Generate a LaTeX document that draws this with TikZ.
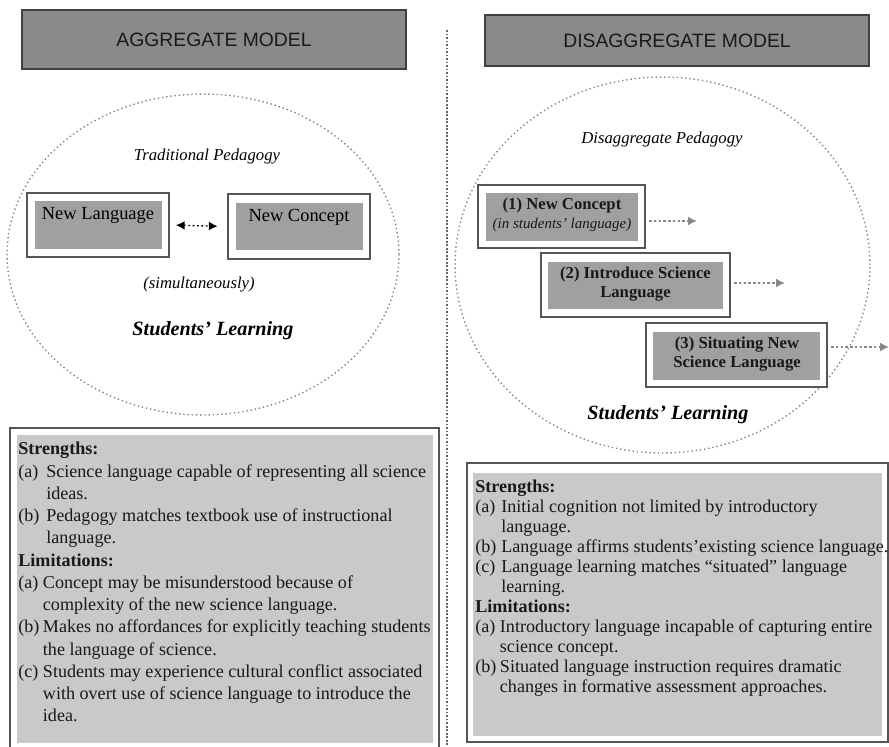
\documentclass[tikz,border=0pt]{standalone}
\usepackage{fontspec}
\setmainfont{Liberation Serif}
\setsansfont{Liberation Sans}
\usetikzlibrary{arrows.meta}

\definecolor{headgray}{RGB}{138,138,138}
\definecolor{boxgray}{RGB}{160,160,160}
\definecolor{notegray}{RGB}{201,201,201}
\definecolor{linegray}{RGB}{85,85,85}
\definecolor{dotgray}{RGB}{135,135,135}

% item labels with a hanging indent
\newcommand\itemlbl[2][15.9pt]{\makebox[#1][l]{#2}}
\newcommand\itemcont[1][15.9pt]{\hspace*{#1}}

\begin{document}
\begin{tikzpicture}[x=0.02cm, y=-0.02cm,
  header/.style={draw=black!75, line width=0.8pt, fill=headgray, inner sep=0,
    font=\sffamily\fontsize{11}{13}\selectfont, text=black!90},
  outerbox/.style={draw=linegray, line width=0.8pt, fill=white, inner sep=0},
  innerbox/.style={fill=boxgray, inner sep=0},
  steptext/.style={font=\bfseries\fontsize{9.5}{10.8}\selectfont, align=center, text=black!90},
  notes/.style={align=left, inner sep=0, anchor=north west, text=black!90},
  dotline/.style={dotgray, line width=0.8pt, dash pattern=on 0.8pt off 1.6pt},
  steparrow/.style={dotgray, line width=1pt, dash pattern=on 1.4pt off 1.3pt,
    -{Latex[length=5pt,width=5pt]}, shorten <=2pt}]

  \useasboundingbox (0,0) rectangle (889,747);

  % Dotted divider between the two models
  \coordinate (DivTop) at (447,30);
  \coordinate (DivBot) at (447,747);
  \draw[black!60, line width=0.8pt, dash pattern=on 1pt off 1pt] (DivTop) -- (DivBot);

  % Headers
  \node[header, minimum width=7.68cm, minimum height=1.18cm] (aggHead) at (214,39.5) {AGGREGATE MODEL};
  \node[header, minimum width=7.68cm, minimum height=1.02cm] (disHead) at (677,40.5) {DISAGGREGATE MODEL};

  % Students' learning ellipses
  \draw[dotline] (203,254.5) ellipse [x radius=3.92cm, y radius=3.21cm];
  \draw[dotline] (662.5,265) ellipse [x radius=4.15cm, y radius=3.76cm];

  % Aggregate model: language and concept together
  \node[font=\itshape\fontsize{9.5}{11}\selectfont] (tradPed) at (207,157) {Traditional Pedagogy};

  \node[outerbox, minimum width=2.84cm, minimum height=1.28cm] (langOut) at (98,225) {};
  \node[innerbox, minimum width=2.54cm, minimum height=0.96cm] (langIn) at (98.5,225) {};
  \node[font=\fontsize{10.5}{12}\selectfont] (langTxt) at (98,215) {New Language};

  \node[outerbox, minimum width=2.84cm, minimum height=1.30cm] (concOut) at (299,226.5) {};
  \node[innerbox, minimum width=2.54cm, minimum height=0.94cm] (concIn) at (299.5,226.5) {};
  \node[font=\fontsize{10.5}{12}\selectfont] (concTxt) at (299,217) {New Concept};

  \draw[{Latex[length=5pt,width=5pt]}-{Latex[length=5pt,width=5pt]}, line width=0.8pt,
    dash pattern=on 1pt off 1.5pt, shorten <=3.5pt, shorten >=5.5pt] (langOut.east) -- (concOut.west);

  \node[font=\itshape\fontsize{9.5}{11}\selectfont] (simul) at (199,285) {(simultaneously)};
  \node[font=\bfseries\itshape\fontsize{11.5}{13}\selectfont] (learnA) at (213,331) {Students’ Learning};

  % Disaggregate model: three steps
  \node[font=\itshape\fontsize{9.5}{11}\selectfont] (disPed) at (662,140) {Disaggregate Pedagogy};

  \node[outerbox, minimum width=3.34cm, minimum height=1.26cm] (step1Out) at (561.5,216.5) {};
  \node[innerbox, minimum width=3.04cm, minimum height=0.96cm] (step1In) at (562,217) {};
  \node[steptext] (step1Txt) at (562,215) {(1) New Concept\\{\normalfont\itshape\fontsize{8.5}{10}\selectfont (in students’ language)}};

  \node[outerbox, minimum width=3.78cm, minimum height=1.28cm] (step2Out) at (635.5,285) {};
  \node[innerbox, minimum width=3.5cm, minimum height=0.94cm] (step2In) at (635.5,285.5) {};
  \node[steptext] (step2Txt) at (635.5,284) {(2) Introduce Science\\Language};

  \node[outerbox, minimum width=3.62cm, minimum height=1.28cm] (step3Out) at (736.5,355) {};
  \node[innerbox, minimum width=3.34cm, minimum height=0.96cm] (step3In) at (736.5,356) {};
  \node[steptext] (step3Txt) at (737,354) {(3) Situating New\\Science Language};

  \coordinate (s1End) at (697,221);
  \coordinate (s2End) at (785,283);
  \coordinate (s3End) at (889,347);
  \draw[steparrow] (step1Out.east |- s1End) -- (s1End);
  \draw[steparrow] (step2Out.east |- s2End) -- (s2End);
  \draw[steparrow] (step3Out.east |- s3End) -- (s3End);

  \node[font=\bfseries\itshape\fontsize{11.5}{13}\selectfont] (learnB) at (668,415) {Students’ Learning};

  % Strengths and limitations, aggregate
  \node[outerbox, minimum width=8.58cm, minimum height=6.64cm] (aggNotesOut) at (224.5,594) {};
  \node[fill=notegray, inner sep=0, minimum width=8.32cm, minimum height=6.16cm] (aggNotesIn) at (225,589) {};
  \node[notes, font=\fontsize{10.3}{12.66}\selectfont] (aggNotes) at (18,442) {%
    \textbf{Strengths:}\\
    \itemlbl{(a)}Science language capable of representing all science\\
    \itemcont ideas.\\
    \itemlbl{(b)}Pedagogy matches textbook use of instructional\\
    \itemcont language.\\
    \textbf{Limitations:}\\
    \itemlbl[14pt]{(a)}Concept may be misunderstood because of\\
    \itemcont[14pt]complexity of the new science language.\\
    \itemlbl[14pt]{(b)}Makes no affordances for explicitly teaching students\\
    \itemcont[14pt]the language of science.\\
    \itemlbl[14pt]{(c)}Students may experience cultural conflict associated\\
    \itemcont[14pt]with overt use of science language to introduce the\\
    \itemcont[14pt]idea.};

  % Strengths and limitations, disaggregate
  \node[outerbox, minimum width=8.42cm, minimum height=5.58cm] (disNotesOut) at (677.5,602.5) {};
  \node[fill=notegray, inner sep=0, minimum width=8.18cm, minimum height=5.26cm] (disNotesIn) at (677.5,604.5) {};
  \node[notes, font=\fontsize{10.3}{11.34}\selectfont] (disNotes) at (475,480) {%
    \textbf{Strengths:}\\
    \itemlbl[14.8pt]{(a)}Initial cognition not limited by introductory\\
    \itemcont[14.8pt]language.\\
    \itemlbl[14.8pt]{(b)}Language affirms students’existing science language.\\
    \itemlbl[14.8pt]{(c)}Language learning matches “situated” language\\
    \itemcont[14.8pt]learning.\\
    \textbf{Limitations:}\\
    \itemlbl[14pt]{(a)}Introductory language incapable of capturing entire\\
    \itemcont[14pt]science concept.\\
    \itemlbl[14pt]{(b)}Situated language instruction requires dramatic\\
    \itemcont[14pt]changes in formative assessment approaches.};

\end{tikzpicture}
\end{document}
